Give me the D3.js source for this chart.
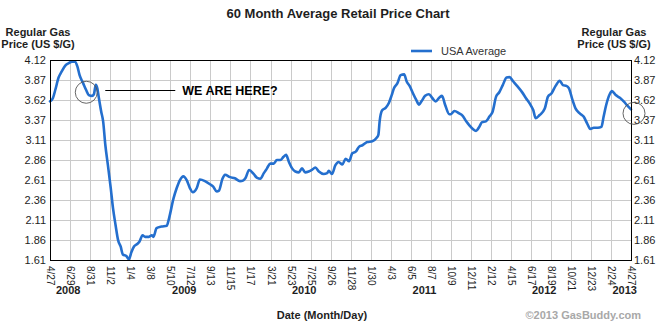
<!DOCTYPE html>
<html>
<head>
<meta charset="utf-8">
<script src="https://cdn.jsdelivr.net/npm/d3@7"></script>
<style>
  html, body { margin: 0; padding: 0; background: #fff; }
  svg { display: block; font-family: "Liberation Sans", Arial, Helvetica, sans-serif; }
</style>
</head>
<body>
<svg id="chart" width="670" height="325"></svg>
<script>
// Tick dates along the time axis (every nine weeks)
const tickDates = [
  "2008-04-27", "2008-06-29", "2008-08-31", "2008-11-02",
  "2009-01-04", "2009-03-08", "2009-05-10", "2009-07-12", "2009-09-13", "2009-11-15",
  "2010-01-17", "2010-03-21", "2010-05-23", "2010-07-25", "2010-09-26", "2010-11-28",
  "2011-01-30", "2011-04-03", "2011-06-05", "2011-08-07", "2011-10-09", "2011-12-11",
  "2012-02-12", "2012-04-15", "2012-06-17", "2012-08-19", "2012-10-21", "2012-12-23",
  "2013-02-24", "2013-04-27"
];

// Year captions under the month/day ticks
const yearLabels = ["2008", "2009", "2010", "2011", "2012", "2013"];
const yearLabelDates = ["2008-06-23", "2009-06-23", "2010-07-05", "2011-07-18", "2012-07-28", "2013-04-07"];

// Price axis
const priceTicks = [1.61, 1.861, 2.112, 2.363, 2.614, 2.865, 3.116, 3.367, 3.618, 3.869, 4.12];
const priceTickLabels = ["1.61", "1.86", "2.11", "2.36", "2.61", "2.86", "3.11", "3.37", "3.62", "3.87", "4.12"];

// USA average retail price of regular gasoline
const dates = [
  "2008-04-27", "2008-05-06", "2008-05-14", "2008-05-24", "2008-06-02", "2008-06-14", "2008-06-25",
  "2008-07-05", "2008-07-14", "2008-07-22", "2008-07-29", "2008-08-09", "2008-08-19", "2008-08-27",
  "2008-09-06", "2008-09-12", "2008-09-18", "2008-09-23", "2008-09-27", "2008-10-05", "2008-10-11",
  "2008-10-18", "2008-10-26", "2008-11-04", "2008-11-11", "2008-11-19", "2008-11-27", "2008-12-05",
  "2008-12-12", "2008-12-23", "2008-12-31", "2009-01-08", "2009-01-16", "2009-01-26", "2009-02-02",
  "2009-02-12", "2009-02-20", "2009-03-04", "2009-03-13", "2009-03-18", "2009-03-28", "2009-04-13",
  "2009-04-29", "2009-05-06", "2009-05-20", "2009-05-30", "2009-06-09", "2009-06-20", "2009-07-01",
  "2009-07-11", "2009-07-20", "2009-08-01", "2009-08-11", "2009-08-27", "2009-09-12", "2009-09-22",
  "2009-10-03", "2009-10-10", "2009-10-21", "2009-10-29", "2009-11-14", "2009-11-29", "2009-12-15",
  "2009-12-26", "2010-01-01", "2010-01-13", "2010-01-27", "2010-02-07", "2010-02-17", "2010-02-28",
  "2010-03-10", "2010-03-20", "2010-03-31", "2010-04-10", "2010-04-21", "2010-05-01", "2010-05-09",
  "2010-05-17", "2010-05-28", "2010-06-07", "2010-06-18", "2010-06-28", "2010-07-08", "2010-07-19",
  "2010-07-29", "2010-08-09", "2010-08-20", "2010-09-04", "2010-09-15", "2010-09-20", "2010-09-30",
  "2010-10-11", "2010-10-21", "2010-11-02", "2010-11-12", "2010-11-23", "2010-12-03", "2010-12-14",
  "2010-12-24", "2011-01-04", "2011-01-19", "2011-02-04", "2011-02-17", "2011-02-23", "2011-02-27",
  "2011-03-07", "2011-03-18", "2011-03-28", "2011-04-06", "2011-04-13", "2011-04-24", "2011-05-04",
  "2011-05-15", "2011-05-23", "2011-06-02", "2011-06-12", "2011-06-22", "2011-07-01", "2011-07-09",
  "2011-07-20", "2011-08-01", "2011-08-12", "2011-08-22", "2011-09-03", "2011-09-11", "2011-09-21",
  "2011-10-04", "2011-10-09", "2011-10-20", "2011-11-04", "2011-11-15", "2011-11-26", "2011-12-06",
  "2011-12-17", "2011-12-27", "2012-01-06", "2012-01-15", "2012-01-27", "2012-02-07", "2012-02-17",
  "2012-02-28", "2012-03-09", "2012-03-20", "2012-04-01", "2012-04-10", "2012-04-22", "2012-05-06",
  "2012-05-19", "2012-06-01", "2012-06-17", "2012-06-24", "2012-07-01", "2012-07-14", "2012-07-30",
  "2012-08-09", "2012-08-20", "2012-09-02", "2012-09-15", "2012-09-25", "2012-10-06", "2012-10-14",
  "2012-10-25", "2012-11-04", "2012-11-17", "2012-11-29", "2012-12-10", "2012-12-20", "2012-12-31",
  "2013-01-13", "2013-01-24", "2013-01-31", "2013-02-08", "2013-02-19", "2013-02-26", "2013-03-10",
  "2013-03-23", "2013-04-04", "2013-04-14", "2013-04-27"
];
const prices = [
  3.60, 3.64, 3.75, 3.90, 3.97, 4.05, 4.08,
  4.10, 4.10, 4.04, 3.93, 3.83, 3.74, 3.68,
  3.67, 3.69, 3.81, 3.76, 3.66, 3.47, 3.35,
  3.05, 2.80, 2.51, 2.26, 2.05, 1.86, 1.78,
  1.68, 1.66, 1.62, 1.71, 1.78, 1.81, 1.84,
  1.92, 1.90, 1.90, 1.92, 1.90, 2.01, 2.03,
  2.04, 2.13, 2.38, 2.51, 2.61, 2.66, 2.61,
  2.51, 2.46, 2.51, 2.62, 2.60, 2.56, 2.53,
  2.47, 2.48, 2.63, 2.68, 2.65, 2.635, 2.60,
  2.61, 2.635, 2.74, 2.69, 2.64, 2.63, 2.70,
  2.76, 2.82, 2.82, 2.865, 2.865, 2.905, 2.93,
  2.85, 2.76, 2.72, 2.71, 2.76, 2.71, 2.72,
  2.74, 2.77, 2.72, 2.69, 2.70, 2.73, 2.69,
  2.80, 2.84, 2.81, 2.88, 2.85, 2.95, 2.97,
  3.03, 3.05, 3.09, 3.10, 3.14, 3.18, 3.35,
  3.49, 3.52, 3.58, 3.68, 3.765, 3.83, 3.93,
  3.94, 3.85, 3.79, 3.70, 3.62, 3.56, 3.605,
  3.67, 3.69, 3.64, 3.60, 3.65, 3.67, 3.555,
  3.44, 3.44, 3.48, 3.45, 3.42, 3.35, 3.30,
  3.255, 3.23, 3.28, 3.34, 3.35, 3.41, 3.47,
  3.66, 3.715, 3.805, 3.90, 3.905, 3.85, 3.785,
  3.72, 3.64, 3.545, 3.49, 3.39, 3.43, 3.51,
  3.66, 3.70, 3.795, 3.86, 3.805, 3.795, 3.765,
  3.62, 3.51, 3.45, 3.41, 3.325, 3.255, 3.27,
  3.27, 3.28, 3.41, 3.555, 3.69, 3.73, 3.68,
  3.645, 3.60, 3.555, 3.50
];

// Callout: the late-summer 2008 level, compared with the latest week
const calloutText = "WE ARE HERE?";
const calloutDate = "2008-08-19";
const calloutPrice = 3.715;
const latestPrice = 3.45;

const parse = d3.timeParse("%Y-%m-%d");
const fmtTick = d3.timeFormat("%-m/%-d");

const W = 670, H = 325;
const margin = { top: 60, right: 39, bottom: 65, left: 50 };
const innerW = W - margin.left - margin.right;
const innerH = H - margin.top - margin.bottom;

const svg = d3.select("#chart");
const ink = "#1e1e1e";

const x = d3.scaleTime()
  .domain([parse(tickDates[0]), parse(tickDates[tickDates.length - 1])])
  .range([margin.left, margin.left + innerW]);
const y = d3.scaleLinear()
  .domain([priceTicks[0], priceTicks[priceTicks.length - 1]])
  .range([margin.top + innerH, margin.top]);

const tickDateObjs = tickDates.map(parse);

// Grid
const grid = svg.append("g").attr("stroke", "#cacaca").attr("stroke-width", 1).attr("shape-rendering", "crispEdges");
grid.selectAll("line.h").data(priceTicks).join("line")
  .attr("class", "h")
  .attr("x1", margin.left).attr("x2", margin.left + innerW)
  .attr("y1", d => Math.round(y(d)) + 0.5).attr("y2", d => Math.round(y(d)) + 0.5);
grid.selectAll("line.v").data(tickDateObjs).join("line")
  .attr("class", "v")
  .attr("x1", d => Math.round(x(d)) + 0.5).attr("x2", d => Math.round(x(d)) + 0.5)
  .attr("y1", margin.top).attr("y2", margin.top + innerH);

// Price line
const series = dates.map((d, i) => ({ date: parse(d), price: prices[i] }));
const line = d3.line()
  .x(d => x(d.date))
  .y(d => y(d.price))
  .curve(d3.curveMonotoneX);
svg.append("path")
  .datum(series)
  .attr("fill", "none")
  .attr("stroke", "#246fce")
  .attr("stroke-width", 2.6)
  .attr("stroke-linejoin", "round")
  .attr("stroke-linecap", "round")
  .attr("d", line);

// Plot frame
svg.append("rect")
  .attr("x", margin.left + 0.5).attr("y", margin.top + 0.5)
  .attr("width", innerW).attr("height", innerH)
  .attr("fill", "none").attr("stroke", "#000").attr("stroke-width", 1.2)
  .attr("shape-rendering", "crispEdges");

// Axes
const tickFont = size => g => g.selectAll("text")
  .attr("fill", ink)
  .style("font-size", size + "px");

svg.append("g")
  .attr("transform", `translate(${margin.left},0)`)
  .call(d3.axisLeft(y).tickValues(priceTicks).tickFormat((d, i) => priceTickLabels[i]).tickSize(0).tickPadding(4))
  .call(g => g.select(".domain").remove())
  .call(tickFont(11));

svg.append("g")
  .attr("transform", `translate(${margin.left + innerW},0)`)
  .call(d3.axisRight(y).tickValues(priceTicks).tickFormat((d, i) => priceTickLabels[i]).tickSize(0).tickPadding(3))
  .call(g => g.select(".domain").remove())
  .call(tickFont(11));

const xAxis = svg.append("g")
  .attr("transform", `translate(0,${margin.top + innerH})`)
  .call(d3.axisBottom(x).tickValues(tickDateObjs).tickFormat(fmtTick).tickSize(0))
  .call(g => g.select(".domain").remove())
  .call(tickFont(10));
xAxis.selectAll("text")
  .attr("transform", "rotate(90)")
  .attr("x", 6)
  .attr("y", 0)
  .attr("dy", ".35em")
  .style("text-anchor", "start");

// Year captions
svg.append("g").selectAll("text")
  .data(yearLabels)
  .join("text")
  .attr("x", (d, i) => x(parse(yearLabelDates[i])))
  .attr("y", 294)
  .attr("text-anchor", "middle")
  .attr("font-size", 11)
  .attr("font-weight", "bold")
  .attr("fill", ink)
  .text(d => d);

// Titles
svg.append("text")
  .attr("x", 338).attr("y", 18)
  .attr("text-anchor", "middle")
  .attr("font-size", 13).attr("font-weight", "bold").attr("fill", ink)
  .text("60 Month Average Retail Price Chart");

[38, 614].forEach(cx => {
  const t = svg.append("text")
    .attr("text-anchor", "middle")
    .attr("font-size", 11).attr("font-weight", "bold").attr("fill", ink);
  t.append("tspan").attr("x", cx).attr("y", 36).text("Regular Gas");
  t.append("tspan").attr("x", cx).attr("y", 48).text("Price (US $/G)");
});

svg.append("text")
  .attr("x", 322).attr("y", 319)
  .attr("text-anchor", "middle")
  .attr("font-size", 11).attr("font-weight", "bold").attr("fill", ink)
  .text("Date (Month/Day)");

svg.append("text")
  .attr("x", 641).attr("y", 319)
  .attr("text-anchor", "end")
  .attr("font-size", 11).attr("font-weight", "bold").attr("fill", "#a8a8a8")
  .text("\u00A92013 GasBuddy.com");

// Legend
const legend = svg.append("g").attr("transform", "translate(411,51)");
legend.append("line")
  .attr("x1", 0).attr("x2", 21).attr("y1", 0).attr("y2", 0)
  .attr("stroke", "#246fce").attr("stroke-width", 2.6);
legend.append("text")
  .attr("x", 30).attr("y", 4)
  .attr("font-size", 11).attr("fill", "#333")
  .text("USA Average");

// Callout marks
const cx0 = x(parse(calloutDate)), cy0 = y(calloutPrice);
svg.append("circle")
  .attr("cx", cx0).attr("cy", cy0).attr("r", 11)
  .attr("fill", "none").attr("stroke", "#555").attr("stroke-width", 0.9);
svg.append("circle")
  .attr("cx", x(parse(dates[dates.length - 1])) + 3).attr("cy", y(latestPrice)).attr("r", 11)
  .attr("fill", "none").attr("stroke", "#555").attr("stroke-width", 0.9);
svg.append("line")
  .attr("x1", cx0 + 19).attr("x2", cx0 + 89)
  .attr("y1", Math.round(cy0 - 2) + 0.5).attr("y2", Math.round(cy0 - 2) + 0.5)
  .attr("stroke", "#000").attr("stroke-width", 1);
svg.append("text")
  .attr("x", cx0 + 96).attr("y", cy0 + 3)
  .attr("font-size", 12.5).attr("font-weight", "bold").attr("fill", "#000")
  .text(calloutText);
</script>
</body>
</html>
